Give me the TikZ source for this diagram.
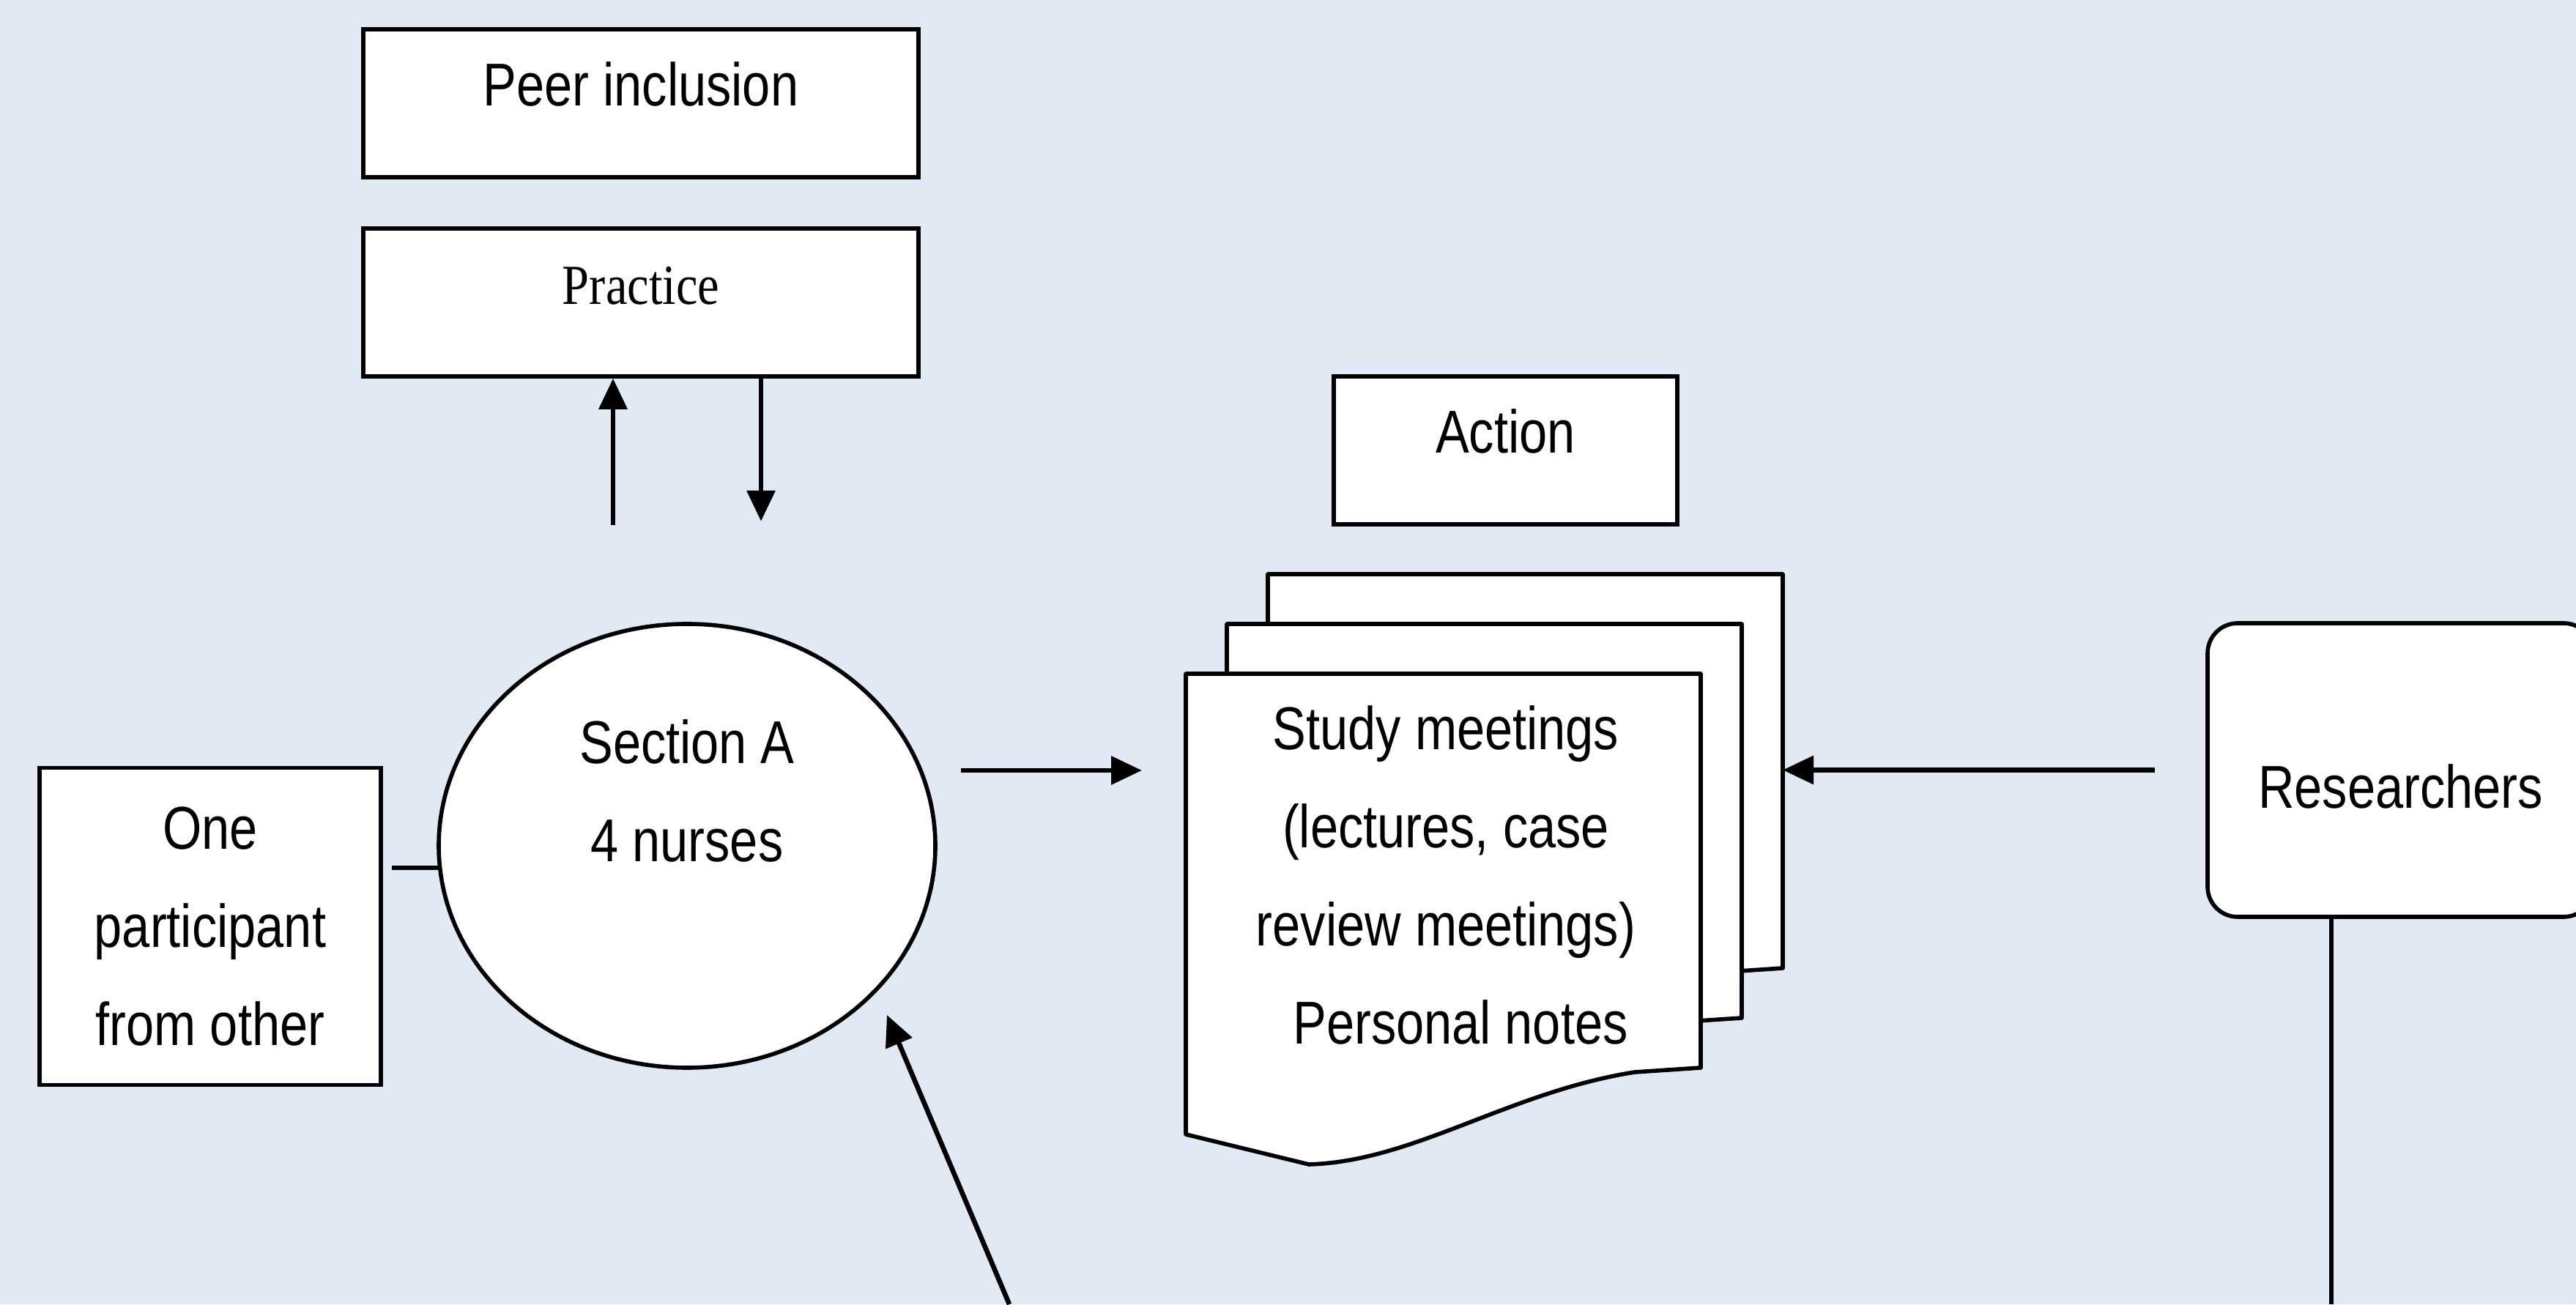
\documentclass[tikz,border=0pt]{standalone}
\usepackage{fontspec}
\newfontfamily\diagfont{Liberation Sans}[FakeStretch=0.83]
\newfontfamily\practfont{Liberation Serif}[FakeStretch=0.86]
\usetikzlibrary{arrows.meta, shapes.geometric}
\definecolor{bgblue}{RGB}{225,233,244}

\begin{document}
\begin{tikzpicture}[
    plainbox/.style={draw, line width=1.6pt, fill=white, inner sep=0pt},
    topbox/.style={plainbox, minimum height=2.02cm, text height=0.6cm, text depth=0.52cm},
    page/.style={draw, line width=1.6pt, fill=white, line join=round},
    arr/.style={-{Triangle[length=0.42cm, width=0.38cm]}, line width=1.9pt},
    link/.style={line width=1.6pt},
    font=\diagfont\fontsize{23.5}{38.2}\selectfont
]
    % Background
    \useasboundingbox (0,0) rectangle (35.17,17.81);
    \fill[bgblue] (0,0) rectangle (35.17,17.81);
    % Top boxes
    \node[topbox, minimum width=7.58cm] (peer) at (8.75,16.40) {Peer inclusion};
    \node[topbox, minimum width=7.58cm, text depth=0.55cm, font=\practfont\fontsize{22}{26}\selectfont] (prac) at (8.75,13.68) {Practice};
    \node[topbox, minimum width=4.69cm] (act) at (20.555,11.66) {Action};
    % Section and participant
    \node[plainbox, ellipse, minimum width=6.78cm, minimum height=6.06cm, align=center] (sec) at (9.38,6.26) {Section A\\4 nurses\\[0.17cm]~};
    \node[plainbox, minimum width=4.66cm, minimum height=4.33cm, align=center] (one) at (2.87,5.16) {One\\participant\\from other};
    % Documents
    \foreach \s in {2,1,0}
        \draw[page, shift={(0.56*\s,0.68*\s)}] (16.19,2.32) -- (16.19,8.61) -- (23.22,8.61) -- (23.22,3.23) -- (22.32,3.17)
            .. controls (20.6,2.9) and (19.3,1.95) .. (17.87,1.91) -- cycle;
    \node[align=center] (doc) at (19.74,5.86) {Study meetings\\(lectures, case\\review meetings)\\\hspace*{0.4cm}Personal notes};
    \coordinate (docL) at (16.19,0);
    \coordinate (docR) at (24.34,0);
    % Researchers
    \node[plainbox, rounded corners=0.41cm, minimum width=5.27cm, minimum height=4.01cm, text height=1.2cm, text depth=0.16cm] (res) at (32.775,7.295) {Researchers};
    % Arrows
    \draw[arr] ([xshift=-0.38cm,yshift=-2.0cm]prac.south) -- ([xshift=-0.38cm]prac.south);
    \draw[arr] ([xshift=1.64cm]prac.south) -- ++(0,-1.95);
    \coordinate (secR) at (13.12,7.29);
    \draw[arr, shorten >=0.6cm] (secR) -- (secR -| docL);
    \draw[arr] ([xshift=-0.69cm]res.west) -- (res.west -| docR);
    \coordinate (foot) at (13.78,0);
    \draw[arr] (foot) -- ++(-1.67,3.95);
    % Links
    \draw[link] (sec.185) -- ([xshift=0.12cm]one.east |- sec.185);
    \draw[link] ([xshift=-0.945cm]res.south) -- ([xshift=-0.945cm]res.south |- foot);
\end{tikzpicture}
\end{document}
